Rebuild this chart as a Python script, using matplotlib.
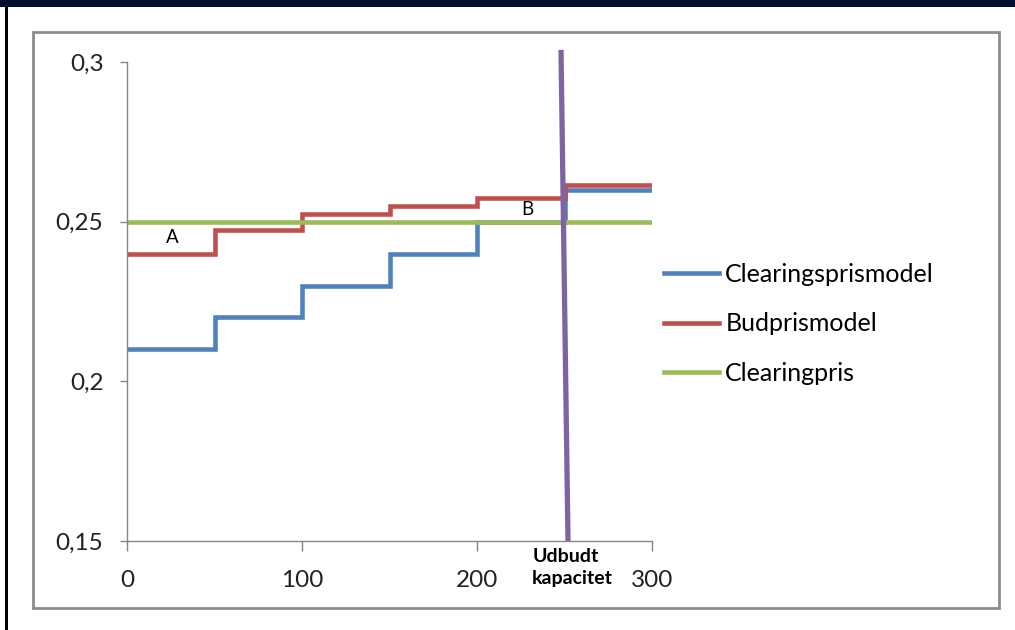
# Clearingspris vs. budpris - trinvise udbudskurver
import matplotlib.pyplot as plt
from matplotlib.patches import Rectangle
from matplotlib.lines import Line2D

plt.rcParams['font.family'] = ['Lato', 'DejaVu Sans']

# Data
step_edges = [0, 50, 100, 150, 200, 250, 300]
clearing_model = [0.21, 0.22, 0.23, 0.24, 0.25, 0.26]
bid_model = [0.24, 0.2475, 0.2525, 0.255, 0.2575, 0.2615]
clearing_price = 0.25
capacity_x = [248.0, 252.0]
capacity_y = [0.3038, 0.15]
x_ticks = [0, 100, 200, 300]
y_ticks = [0.15, 0.2, 0.25, 0.3]
y_labels = ['0,15', '0,2', '0,25', '0,3']

blue = '#4F81BD'
red = '#C0504D'
green = '#9BBB59'
purple = '#8064A2'
axis_gray = '#868686'

W, H = 1015, 630
fig = plt.figure(figsize=(W / 100, H / 100), dpi=100)

# page decoration: navy band, left edge, chart frame
fig.patches.append(Rectangle((0, 1 - 7 / H), 1, 7 / H, transform=fig.transFigure,
                             facecolor='#001030', edgecolor='none'))
fig.patches.append(Rectangle((5 / W, 0), 3 / W, 1 - 7 / H, transform=fig.transFigure,
                             facecolor='black', edgecolor='none'))
fig.patches.append(Rectangle((33 / W, 1 - 608 / H), 966 / W, 576 / H,
                             transform=fig.transFigure, facecolor='none',
                             edgecolor='#8c8c8c', linewidth=2))

ax = fig.add_axes([127 / W, 1 - 541 / H, 525 / W, 479 / H])

ax.stairs(clearing_model, step_edges, baseline=None, color=blue, linewidth=3.3,
          label='Clearingsprismodel')
ax.stairs(bid_model, step_edges, baseline=None, color=red, linewidth=3.3,
          label='Budprismodel')
ax.plot([step_edges[0], step_edges[-1]], [clearing_price, clearing_price],
        color=green, linewidth=3.3, label='Clearingpris')
ax.plot(capacity_x, capacity_y, color=purple, linewidth=3.8, clip_on=False,
        solid_capstyle='butt')

ax.text(25.7, 0.2449, 'A', fontsize=13.5, ha='center', va='center')
ax.text(228.6, 0.2537, 'B', fontsize=13.5, ha='center', va='center')
ax.text(231.5, 0.1477, 'Udbudt\nkapacitet', fontsize=14, fontweight='bold',
        ha='left', va='top', linespacing=1.3)

ax.set_xlim(0, 300)
ax.set_ylim(0.15, 0.3)
ax.set_xticks(x_ticks)
ax.set_yticks(y_ticks)
ax.set_yticklabels(y_labels)

for side in ['top', 'right']:
    ax.spines[side].set_visible(False)
for side in ['left', 'bottom']:
    ax.spines[side].set_color(axis_gray)
    ax.spines[side].set_linewidth(1)
ax.tick_params(axis='y', direction='out', length=5, width=1, color=axis_gray,
               pad=12, labelsize=17.5, labelcolor='#222222')
ax.tick_params(axis='x', direction='out', length=7, width=1, color=axis_gray,
               pad=14, labelsize=17.5, labelcolor='#222222')

handles = [Line2D([], [], color=c, linewidth=3.3) for c in (blue, red, green)]
fig.legend(handles, ['Clearingsprismodel', 'Budprismodel', 'Clearingpris'],
           loc='center left', bbox_to_anchor=(664 / W, 1 - 324 / H),
           frameon=False, fontsize=18, handlelength=2.2, handletextpad=0.25,
           labelspacing=1.05, borderpad=0, borderaxespad=0)

fig.savefig('out.png', dpi=100)
